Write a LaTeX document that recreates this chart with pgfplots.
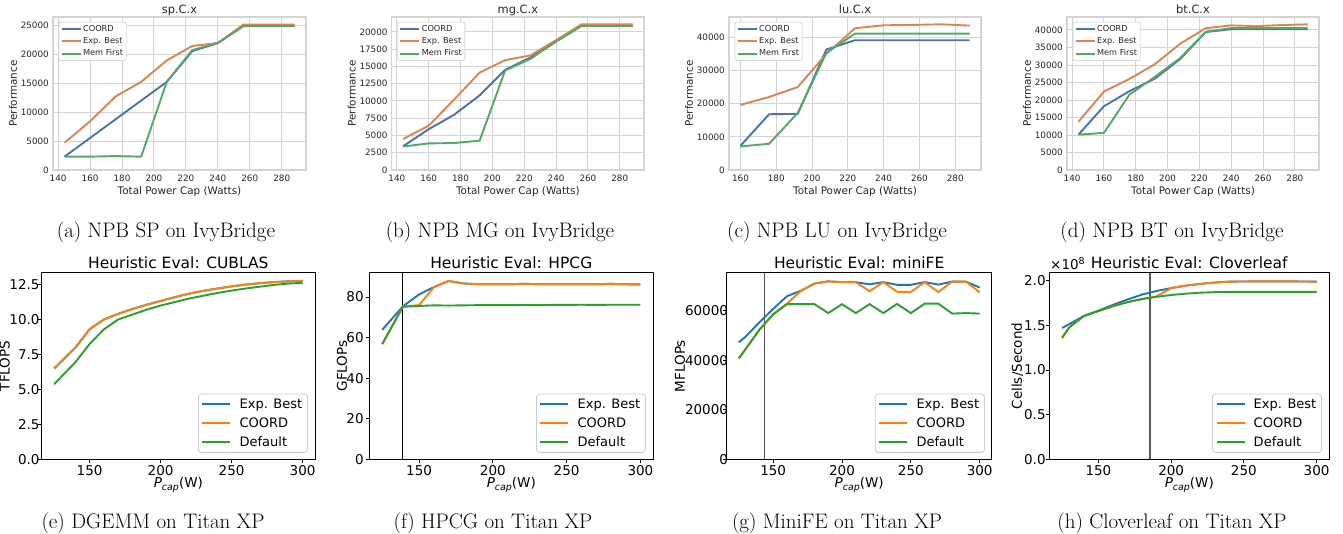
\documentclass[border=0pt]{standalone}
\usepackage{fontspec}
\usepackage{pgfplots}
\pgfplotsset{compat=1.18}
\newfontfamily\djv{DejaVu Sans}
\definecolor{sbblue}{HTML}{4C72B0}
\definecolor{sborange}{HTML}{DD8452}
\definecolor{sbgreen}{HTML}{55A868}
\definecolor{tblue}{HTML}{1F77B4}
\definecolor{torange}{HTML}{FF7F0E}
\definecolor{tgreen}{HTML}{2CA02C}
\newcommand\Pcap{\textit{P}\raisebox{-0.4ex}{\fontsize{9.5}{10}\selectfont\itshape cap}(W)}
\pgfplotsset{
 every axis title shift=0pt,
 toprow/.style={
  scale only axis, height=153pt,
  xmin=136.8, xmax=295.2, ymin=0,
  xtick={140,160,...,280},
  grid=major, major grid style={draw=black!17, line width=0.9pt},
  axis line style={draw=black!17, line width=1.1pt},
  major tick length=0pt,
  /pgf/number format/assume math mode=true,
  /pgf/number format/1000 sep={},
  scaled ticks=false,
  tick label style={font=\fontsize{8.8}{10}\selectfont\djv, text=black!85},
  xticklabel style={anchor=north, inner sep=0pt, yshift=-5pt},
  yticklabel style={anchor=east, inner sep=0pt, xshift=-4pt},
  label style={font=\fontsize{10.4}{12}\selectfont\djv, text=black!85},
  xlabel={Total Power Cap (Watts)}, ylabel={Performance},
  xlabel style={at={([yshift=-24.3pt]axis description cs:0.5,0)}, anchor=base},
  ylabel style={at={([xshift=-40pt]axis description cs:0,0.5)}, anchor=center},
  title style={font=\fontsize{11.4}{13}\selectfont\djv, text=black!85, at={([yshift=3pt]axis description cs:0.5,1)}, anchor=base},
  legend cell align=left,
  legend style={at={(0.0225,0.97)}, anchor=north west, draw=black!15, line width=0.8pt, rounded corners=2pt, fill=white,
    font=\fontsize{8.2}{9}\selectfont\djv, text=black!85, inner xsep=1.5pt, inner ysep=1.5pt, row sep=1.6pt, nodes={inner sep=1.6pt}},
  legend image code/.code={\draw[#1, line width=1.9pt] (0pt,0pt) -- (19pt,0pt);},
  every axis plot/.append style={line width=1.9pt},
 },
 botrow/.style={
  scale only axis, height=186.6pt,
  xmin=116.25, xmax=308.75, ymin=0,
  xtick={150,200,250,300},
  axis line style={draw=black, line width=0.9pt},
  tick style={draw=black, line width=0.9pt},
  tick align=outside, major tick length=3.5pt, tick pos=left,
  /pgf/number format/assume math mode=true,
  /pgf/number format/1000 sep={},
  scaled ticks=false,
  tick label style={font=\fontsize{13.5}{16}\selectfont\djv},
  xticklabel style={anchor=north, inner sep=0pt, yshift=-2.5pt},
  yticklabel style={anchor=east, inner sep=0pt},
  label style={font=\fontsize{13.5}{16}\selectfont\djv},
  xlabel={\Pcap},
  xlabel style={at={([yshift=-28.5pt]axis description cs:0.5,0)}, anchor=base},
  title style={font=\fontsize{15.5}{18}\selectfont\djv, at={([yshift=4.4pt]axis description cs:0.5,1)}, anchor=base},
  legend cell align=left,
  legend style={at={(0.974,0.035)}, anchor=south east, draw=black!20, line width=0.8pt, rounded corners=3pt, fill=white,
    font=\fontsize{13}{15}\selectfont\djv, inner xsep=3pt, inner ysep=2.5pt, row sep=3pt, nodes={inner sep=2.3pt},
    /tikz/every odd column/.append style={column sep=6pt}},
  legend image code/.code={\draw[#1, line width=1.9pt] (0pt,0pt) -- (28pt,0pt);},
  every axis plot/.append style={line width=1.9pt},
 },
}
\begin{document}
\begin{tikzpicture}
\path[use as bounding box] (0pt,0pt) rectangle (1343pt,534pt);
% ---------------- (a) sp.C.x
\begin{axis}[toprow, at={(53pt,364pt)}, anchor=south west, width=253pt, ymax=26400,
  ytick={0,5000,...,25000}, title={sp.C.x}]
\addplot[sbblue] coordinates {(144,2300) (160,5525) (176,8750) (192,11975) (208,15200) (224,20500) (240,21900) (256,24900) (272,24900) (288,24900)};
\addplot[sborange] coordinates {(144,4700) (160,8400) (176,12700) (192,15200) (208,18900) (224,21400) (240,21900) (256,25100) (272,25100) (288,25100)};
\addplot[sbgreen] coordinates {(144,2300) (160,2300) (176,2400) (192,2300) (208,15200) (224,20700) (240,21900) (256,24800) (272,24800) (288,24800)};
\legend{COORD,Exp. Best,Mem First}
\end{axis}
% ---------------- (b) mg.C.x
\begin{axis}[toprow, at={(391.7pt,364pt)}, anchor=south west, width=252.3pt, ymax=22150,
  ytick={0,2500,...,20000}, title={mg.C.x}]
\addplot[sbblue] coordinates {(144,3450) (160,5900) (176,8000) (192,10800) (208,14500) (224,16300) (240,18600) (256,20900) (272,20900) (288,20900)};
\addplot[sborange] coordinates {(144,4500) (160,6400) (176,10200) (192,14100) (208,15900) (224,16600) (240,18800) (256,21100) (272,21100) (288,21100)};
\addplot[sbgreen] coordinates {(144,3400) (160,3850) (176,3900) (192,4250) (208,14400) (224,16100) (240,18600) (256,20850) (272,20850) (288,20850)};
\legend{COORD,Exp. Best,Mem First}
\end{axis}
% ---------------- (c) lu.C.x
\begin{axis}[toprow, at={(729pt,364pt)}, anchor=south west, width=252pt, ymax=46100,
  xmin=153.6, xmax=294.4, xtick={160,180,...,280},
  ytick={0,10000,...,40000}, title={lu.C.x}]
\addplot[sbblue] coordinates {(160,7300) (176,16800) (192,16900) (208,36300) (224,39100) (240,39100) (256,39100) (272,39100) (288,39100)};
\addplot[sborange] coordinates {(160,19600) (176,22000) (192,25000) (208,35000) (224,42700) (240,43600) (256,43700) (272,43900) (288,43500)};
\addplot[sbgreen] coordinates {(160,7100) (176,7900) (192,17200) (208,35300) (224,41100) (240,41100) (256,41100) (272,41100) (288,41100)};
\legend{COORD,Exp. Best,Mem First}
\end{axis}
% ---------------- (d) bt.C.x
\begin{axis}[toprow, at={(1067pt,364pt)}, anchor=south west, width=252pt, ymax=43700,
  ytick={0,5000,...,40000}, title={bt.C.x}]
\addplot[sbblue] coordinates {(144,10100) (160,18200) (176,22500) (192,26100) (208,31700) (224,39400) (240,40200) (256,40200) (272,40200) (288,40200)};
\addplot[sborange] coordinates {(144,13800) (160,22400) (176,26000) (192,30200) (208,36100) (224,40500) (240,41300) (256,41100) (272,41400) (288,41600)};
\addplot[sbgreen] coordinates {(144,10100) (160,10600) (176,21500) (192,26600) (208,32000) (224,39500) (240,40500) (256,40500) (272,40500) (288,40500)};
\legend{COORD,Exp. Best,Mem First}
\end{axis}
% ---------------- (e) CUBLAS
\begin{axis}[botrow, at={(41.7pt,74.7pt)}, anchor=south west, width=273.3pt, ymax=13.35,
  ytick={0,2.5,...,12.5}, yticklabel style={xshift=1.5pt, /pgf/number format/.cd, fixed, fixed zerofill, precision=1},
  ylabel={TFLOPS}, ylabel style={at={([xshift=-37pt]axis description cs:0,0.5)}, anchor=center},
  title={Heuristic Eval: CUBLAS}]
\addplot[tblue] coordinates {(125,6.5) (140,8.0) (150,9.3) (160,10.0) (170,10.4) (180,10.75) (190,11.05) (200,11.33) (210,11.6) (220,11.85) (230,12.05) (240,12.22) (250,12.37) (260,12.5) (270,12.6) (280,12.68) (290,12.73) (300,12.75)};
\addplot[torange] coordinates {(125,6.5) (140,8.0) (150,9.3) (160,10.0) (170,10.4) (180,10.75) (190,11.05) (200,11.33) (210,11.6) (220,11.85) (230,12.05) (240,12.22) (250,12.37) (260,12.5) (270,12.6) (280,12.68) (290,12.73) (300,12.75)};
\addplot[tgreen] coordinates {(125,5.37) (140,6.95) (150,8.25) (160,9.29) (170,10.0) (180,10.35) (190,10.7) (200,11.0) (210,11.25) (220,11.5) (230,11.7) (240,11.9) (250,12.07) (260,12.22) (270,12.35) (280,12.48) (290,12.57) (300,12.63)};
\legend{Exp. Best,COORD,Default}
\end{axis}
% ---------------- (f) HPCG
\begin{axis}[botrow, at={(369.3pt,74.7pt)}, anchor=south west, width=284pt, ymax=92,
  ytick={0,20,...,80}, yticklabel style={xshift=-2pt},
  ylabel={GFLOPs}, ylabel style={at={([xshift=-27.3pt]axis description cs:0,0.5)}, anchor=center},
  title={Heuristic Eval: HPCG}]
\addplot[forget plot, black, line width=1pt] coordinates {(139,0) (139,92)};
\addplot[tblue] coordinates {(125,63.8) (139,75.4) (150,81.3) (160,84.9) (170,87.9) (180,86.7) (190,86.3) (200,86.4) (210,86.3) (220,86.5) (230,86.4) (240,86.4) (250,86.3) (260,86.4) (270,86.3) (280,86.5) (290,86.3) (300,86.2)};
\addplot[torange] coordinates {(125,56.8) (139,75.4) (150,76.0) (160,84.9) (170,87.9) (180,86.7) (190,86.3) (200,86.4) (210,86.3) (220,86.5) (230,86.4) (240,86.4) (250,86.3) (260,86.4) (270,86.3) (280,86.5) (290,86.3) (300,86.2)};
\addplot[tgreen] coordinates {(125,56.8) (139,75.2) (150,75.6) (160,75.9) (170,75.8) (180,75.9) (190,76.0) (200,76.0) (210,76.0) (220,76.1) (230,76.0) (240,76.1) (250,76.1) (260,76.2) (270,76.1) (280,76.2) (290,76.2) (300,76.2)};
\legend{Exp. Best,COORD,Default}
\end{axis}
% ---------------- (g) miniFE
\begin{axis}[botrow, at={(726.7pt,74.7pt)}, anchor=south west, width=265pt, ymax=75300,
  ytick={0,20000,40000,60000}, yticklabel style={xshift=5pt},
  ylabel={MFLOPs}, ylabel style={at={([xshift=-46.7pt]axis description cs:0,0.5)}, anchor=center},
  title={Heuristic Eval: miniFE}]
\addplot[forget plot, black!65, line width=1.1pt] coordinates {(144,0) (144,75300)};
\addplot[tblue] coordinates {(125,47200) (130,49500) (140,55300) (150,60700) (160,65800) (170,68000) (180,70900) (190,71800) (200,71500) (210,71500) (220,70600) (230,71500) (240,70400) (250,70400) (260,71500) (270,70500) (280,71700) (290,71700) (300,69300)};
\addplot[torange] coordinates {(125,40700) (130,44500) (140,52300) (150,58500) (160,62800) (170,67900) (180,70900) (190,71800) (200,71500) (210,71500) (220,67800) (230,71500) (240,67600) (250,67500) (260,71500) (270,67500) (280,71700) (290,71700) (300,67400)};
\addplot[tgreen] coordinates {(125,40700) (130,44500) (140,52300) (150,58500) (160,62600) (170,62600) (180,62600) (190,59000) (200,62600) (210,59000) (220,62600) (230,59000) (240,62700) (250,59000) (260,62800) (270,62800) (280,58800) (290,59000) (300,58800)};
\legend{Exp. Best,COORD,Default}
\end{axis}
% ---------------- (h) Cloverleaf
\begin{axis}[botrow, at={(1049.3pt,74.7pt)}, anchor=south west, width=280pt, ymax=2.09,
  ytick={0,0.5,...,2.0}, yticklabel style={/pgf/number format/.cd, fixed, fixed zerofill, precision=1},
  ylabel={Cells/Second}, ylabel style={at={([xshift=-32pt]axis description cs:0,0.5)}, anchor=center},
  title={Heuristic Eval: Cloverleaf}]
\addplot[forget plot, black!65, line width=1.1pt] coordinates {(185.5,0) (185.5,2.09)};
\addplot[tblue] coordinates {(125,1.47) (130,1.515) (140,1.605) (150,1.665) (160,1.73) (170,1.79) (180,1.845) (190,1.885) (200,1.918) (210,1.945) (220,1.965) (230,1.98) (240,1.99) (260,1.993) (280,1.993) (300,1.99)};
\addplot[torange] coordinates {(125,1.36) (130,1.478) (140,1.605) (150,1.66) (160,1.715) (170,1.76) (180,1.795) (190,1.825) (200,1.918) (210,1.945) (220,1.965) (230,1.98) (240,1.99) (260,1.993) (280,1.993) (300,1.99)};
\addplot[tgreen] coordinates {(125,1.36) (130,1.478) (140,1.605) (150,1.66) (160,1.715) (170,1.76) (180,1.795) (190,1.82) (200,1.84) (210,1.855) (220,1.866) (230,1.872) (240,1.875) (260,1.875) (280,1.875) (300,1.875)};
\legend{Exp. Best,COORD,Default}
\end{axis}
\node[anchor=south west, inner sep=0pt, font=\fontsize{13.5}{16}\selectfont\djv] at (1050pt,264pt) {×10\textsuperscript{8}};
% ---------------- captions
\begin{scope}[every node/.style={anchor=base, inner sep=0pt, font=\fontsize{21}{25}\selectfont}]
\node at (166pt,296pt) {(a) NPB SP on IvyBridge};
\node at (500pt,296pt) {(b) NPB MG on IvyBridge};
\node at (837pt,296pt) {(c) NPB LU on IvyBridge};
\node at (1172pt,296pt) {(d) NPB BT on IvyBridge};
\node at (153pt,5.5pt) {(e) DGEMM on Titan XP};
\node at (493pt,5.5pt) {(f) HPCG on Titan XP};
\node at (837pt,5.5pt) {(g) MiniFE on Titan XP};
\node at (1172pt,5.5pt) {(h) Cloverleaf on Titan XP};
\end{scope}
\end{tikzpicture}
\end{document}
